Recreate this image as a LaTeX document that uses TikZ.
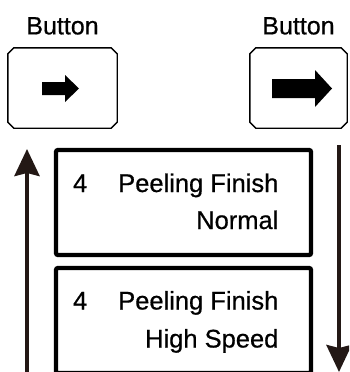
\documentclass[tikz,border=0pt]{standalone}
\usepackage{fontspec}
\setmainfont[FakeBold=0.6]{Liberation Sans}
\usetikzlibrary{positioning,arrows.meta}

\definecolor{inkdark}{HTML}{231815}

\tikzset{
  btn/.style={minimum height=80pt, inner sep=0pt},
  btnframe/.style={draw, line width=1.4pt, line join=miter},
  btnlabel/.style={font=\fontsize{25}{30}\selectfont, inner sep=0pt},
  panel/.style={draw, line width=4.3pt, rounded corners=2pt,
    minimum width=255pt, minimum height=105pt},
  paneltext/.style={font=\fontsize{25.5}{30}\selectfont, inner sep=0pt, anchor=west},
  flow/.style={draw=inkdark, line width=4pt,
    -{Stealth[length=27pt, width=25pt, inset=3pt]}}
}

\begin{document}
\begin{tikzpicture}[x=1pt, y=-1pt]
  \clip (0,0) rectangle (349,372);

  % buttons
  \node[btn, minimum width=109pt] (btnA) at (62.5,88) {};
  \node[btn, minimum width=97pt] (btnB) at (298.5,88) {};
  \node[btnlabel, above=13pt of btnA] (labA) {Button};
  \node[btnlabel, above=13pt of btnB] (labB) {Button};
  \foreach \b in {btnA,btnB}
    \draw[btnframe] ([xshift=6pt]\b.north west) -- ([xshift=-6pt]\b.north east)
      -- ([yshift=-6pt]\b.north east) -- ([yshift=6pt]\b.south east)
      -- ([xshift=-6pt]\b.south east) -- ([xshift=6pt]\b.south west)
      -- ([yshift=6pt]\b.south west) -- ([yshift=-6pt]\b.north west) -- cycle;

  \fill[black, shift={(btnA.center)}]
    (-20.5,-6) -- (2.5,-6) -- (2.5,-13) -- (16.5,0.5) -- (2.5,14) -- (2.5,7) -- (-20.5,7) -- cycle;
  \fill[black, shift={(btnB.center)}]
    (-26.5,-9) -- (16.5,-9) -- (16.5,-18) -- (33.5,0.5) -- (16.5,19) -- (16.5,10) -- (-26.5,10) -- cycle;

  % menu panels
  \node[panel] (normal) at (183.5,202.5) {};
  \node[panel] (fast) at (183.5,320.5) {};
  \node[paneltext] (normalTxt) at ([xshift=19pt,yshift=-2pt]normal.west)
    {\begin{tabular}{@{}l@{\hspace{31pt}}r@{}}4 & Peeling Finish\\[7pt] & Normal\end{tabular}};
  \node[paneltext] (fastTxt) at ([xshift=19pt,yshift=-2pt]fast.west)
    {\begin{tabular}{@{}l@{\hspace{31pt}}r@{}}4 & Peeling Finish\\[8pt] & High Speed\end{tabular}};

  % scroll arrows
  \coordinate (upFrom) at (27,372);
  \coordinate (upTo) at (27,149);
  \coordinate (downFrom) at (339,145);
  \coordinate (downTo) at (339,372);
  \draw[flow] (upFrom) -- (upTo);
  \draw[flow] (downFrom) -- (downTo);
\end{tikzpicture}
\end{document}
